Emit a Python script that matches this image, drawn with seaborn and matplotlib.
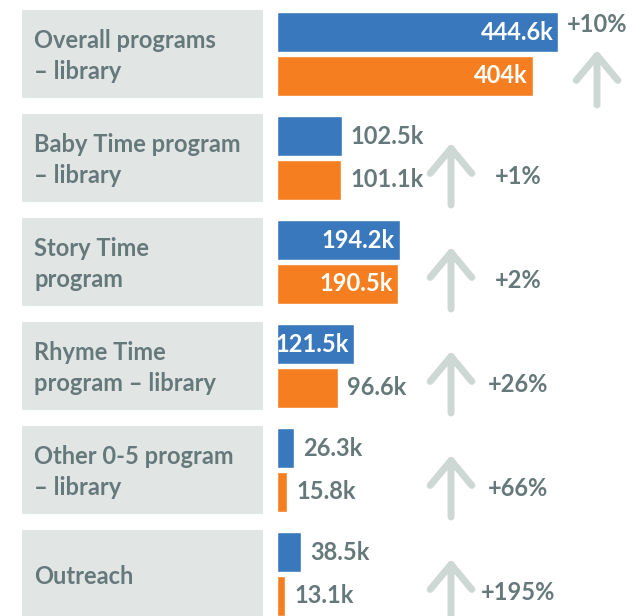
import pandas as pd
import seaborn as sns
import matplotlib.pyplot as plt
from matplotlib.patches import Rectangle

# Data (counts in thousands)
programs = [
    "Overall programs\n– library",
    "Baby Time program\n– library",
    "Story Time\nprogram",
    "Rhyme Time\nprogram – library",
    "Other 0-5 program\n– library",
    "Outreach",
]
current = [444.6, 102.5, 194.2, 121.5, 26.3, 38.5]
previous = [404.0, 101.1, 190.5, 96.6, 15.8, 13.1]
current_labels = ["444.6k", "102.5k", "194.2k", "121.5k", "26.3k", "38.5k"]
previous_labels = ["404k", "101.1k", "190.5k", "96.6k", "15.8k", "13.1k"]
changes = ["+10%", "+1%", "+2%", "+26%", "+66%", "+195%"]

BLUE = "#3a78be"
ORANGE = "#f47e20"
TEXT = "#66797a"
BOX = "#e1e6e5"
ARROW = "#cdd8d5"

W, H = 632, 616
PITCH = 104          # px between rows
TOP = 54             # px, centre of first row
BAR_X0 = 277         # px, where bars start
PX_PER_K = 0.633     # px per thousand
FS = 17


def plot_programs():
    sns.set_style("white")
    plt.rcParams["font.family"] = ["Lato", "DejaVu Sans"]

    df = pd.DataFrame({
        "Program": programs * 2,
        "Count": current + previous,
        "Series": ["Current"] * len(programs) + ["Previous"] * len(programs),
    })

    fig = plt.figure(figsize=(W / 100, H / 100), dpi=100)
    ylim = ((H - TOP) / PITCH, -TOP / PITCH)

    # left panel with the grey label boxes
    ax_lab = fig.add_axes([0, 0, BAR_X0 / W, 1])
    ax_lab.set_xlim(0, BAR_X0)
    ax_lab.set_ylim(*ylim)
    ax_lab.axis("off")
    box_h = 88 / PITCH
    for i, name in enumerate(programs):
        ax_lab.add_patch(Rectangle((22, i - box_h / 2), 241, box_h,
                                   color=BOX, lw=0))
        ax_lab.text(34, i + 0.02, name, ha="left", va="center", fontsize=FS,
                    color=TEXT, fontweight="bold", linespacing=1.4)

    # bars
    ax = fig.add_axes([BAR_X0 / W, 0, 1 - BAR_X0 / W, 1])
    sns.barplot(data=df, y="Program", x="Count", hue="Series",
                palette=[BLUE, ORANGE], orient="h", width=0.84, gap=0.08,
                saturation=1, legend=False, ax=ax)
    ax.set_xlim(0, (W - BAR_X0) / PX_PER_K)
    ax.set_ylim(*ylim)
    ax.axis("off")

    pad_in = 5 / PX_PER_K
    pad_out = 9 / PX_PER_K
    for cont, labels in zip(ax.containers, [current_labels, previous_labels]):
        for bar, lab in zip(cont, labels):
            w = bar.get_width()
            y = bar.get_y() + bar.get_height() / 2
            if w > 110:
                ax.text(w - pad_in, y, lab, ha="right", va="center",
                        fontsize=FS, color="white", fontweight="bold")
            else:
                ax.text(w + pad_out, y, lab, ha="left", va="center",
                        fontsize=FS, color=TEXT, fontweight="bold")

    # change arrows and percentages
    arrow_style = "->,head_length=18,head_width=15"
    for i, ch in enumerate(changes):
        if i == 0:
            x = (597 - BAR_X0) / PX_PER_K
            tip, base = -4 / PITCH, 51 / PITCH
            tx, ty = x, -29 / PITCH
        else:
            x = (451 - BAR_X0) / PX_PER_K
            tip, base = -15 / PITCH, 47 / PITCH
            tx, ty = (518 - BAR_X0) / PX_PER_K, 19 / PITCH
        ax.annotate("", xy=(x, i + tip), xytext=(x, i + base),
                    arrowprops=dict(arrowstyle=arrow_style, color=ARROW,
                                    lw=5, mutation_scale=1,
                                    shrinkA=0, shrinkB=0),
                    annotation_clip=False)
        ax.text(tx, i + ty, ch, ha="center", va="center", fontsize=FS,
                color=TEXT, fontweight="bold")

    fig.savefig("out.png", dpi=100)


if __name__ == "__main__":
    plot_programs()
